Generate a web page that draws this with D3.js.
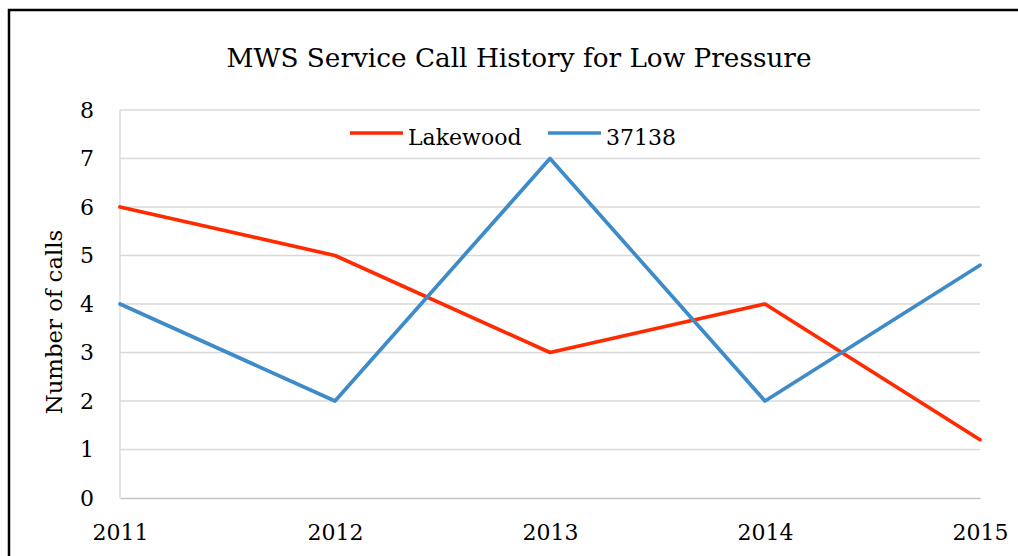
<!DOCTYPE html>
<html>
<head>
<meta charset="utf-8">
<script src="https://cdn.jsdelivr.net/npm/d3@7"></script>
<style>
  body { margin: 0; background: #fff; }
  text { font-family: "DejaVu Serif", serif; fill: #000; }
</style>
</head>
<body>
<script>
// data
const years = [2011, 2012, 2013, 2014, 2015]
const lakewood = [6, 5, 3, 4, 1.2]
const zip37138 = [4, 2, 7, 2, 4.8]
const yTicks = [0, 1, 2, 3, 4, 5, 6, 7, 8]
const seriesNames = ["Lakewood", "37138"]
const seriesColors = ["#ff2a00", "#3d8bc8"]

const W = 1018, H = 556
const margin = { top: 110, right: 38, bottom: 58, left: 120 }

let svg = d3.select("body").append("svg")
    .attr("width", W)
    .attr("height", H)

// frame (only top + left visible in the crop)
svg.append("path")
    .attr("d", "M9,556 V10 H1018")
    .attr("fill", "none")
    .attr("stroke", "#000")
    .attr("stroke-width", 2.5)

let x = d3.scalePoint()
    .domain(years)
    .range([margin.left, W - margin.right])

let y = d3.scaleLinear()
    .domain([0, 8])
    .range([H - margin.bottom, margin.top])

// gridlines
svg.append("g")
    .selectAll("line")
    .data(yTicks.filter(d => d > 0))
    .enter()
    .append("line")
        .attr("x1", margin.left)
        .attr("x2", W - margin.right)
        .attr("y1", d => y(d))
        .attr("y2", d => y(d))
        .attr("stroke", "#d9d9d9")
        .attr("stroke-width", 1.3)

// left axis line
svg.append("line")
    .attr("x1", margin.left).attr("x2", margin.left)
    .attr("y1", y(8)).attr("y2", y(0))
    .attr("stroke", "#d9d9d9")
    .attr("stroke-width", 1.3)

// bottom axis
let xAxis = svg.append("g")
    .attr("transform", "translate(0," + y(0) + ")")
    .call(d3.axisBottom(x).tickSize(0).tickPadding(26))
xAxis.select(".domain").attr("stroke", "#c4c4c4").attr("stroke-width", 1.5)
xAxis.selectAll("text")
    .attr("font-size", 22)
    .attr("font-family", "DejaVu Serif")
    .attr("fill", "#000")

// y axis labels
let yAxis = svg.append("g")
    .attr("transform", "translate(" + margin.left + ",0)")
    .call(d3.axisLeft(y).tickValues(yTicks).tickSize(0).tickPadding(26))
yAxis.select(".domain").remove()
yAxis.selectAll("text")
    .attr("font-size", 22)
    .attr("font-family", "DejaVu Serif")
    .attr("fill", "#000")

// lines
let line = d3.line()
    .x((d, i) => x(years[i]))
    .y(d => y(d))

const series = [lakewood, zip37138]
svg.selectAll(".series")
    .data(series)
    .enter()
    .append("path")
        .attr("class", "series")
        .attr("d", d => line(d))
        .attr("fill", "none")
        .attr("stroke", (d, i) => seriesColors[i])
        .attr("stroke-width", 3.7)
        .attr("stroke-linejoin", "round")
        .attr("stroke-linecap", "round")

// title
svg.append("text")
    .attr("x", 519)
    .attr("y", 67)
    .attr("text-anchor", "middle")
    .attr("font-size", 26.3)
    .text("MWS Service Call History for Low Pressure")

// y label
svg.append("text")
    .attr("transform", "translate(62,322) rotate(-90)")
    .attr("text-anchor", "middle")
    .attr("font-size", 22.8)
    .text("Number of calls")

// legend
const legendX = [350, 548]
const legend = svg.selectAll(".legend")
    .data(seriesNames)
    .enter()
    .append("g")
        .attr("class", "legend")
        .attr("transform", (d, i) => "translate(" + legendX[i] + ",133)")
legend.append("line")
    .attr("x1", 0).attr("x2", 53)
    .attr("stroke", (d, i) => seriesColors[i])
    .attr("stroke-width", 3.7)
legend.append("text")
    .attr("x", 58)
    .attr("y", 12)
    .attr("font-size", 22)
    .text(d => d)
</script>
</body>
</html>
